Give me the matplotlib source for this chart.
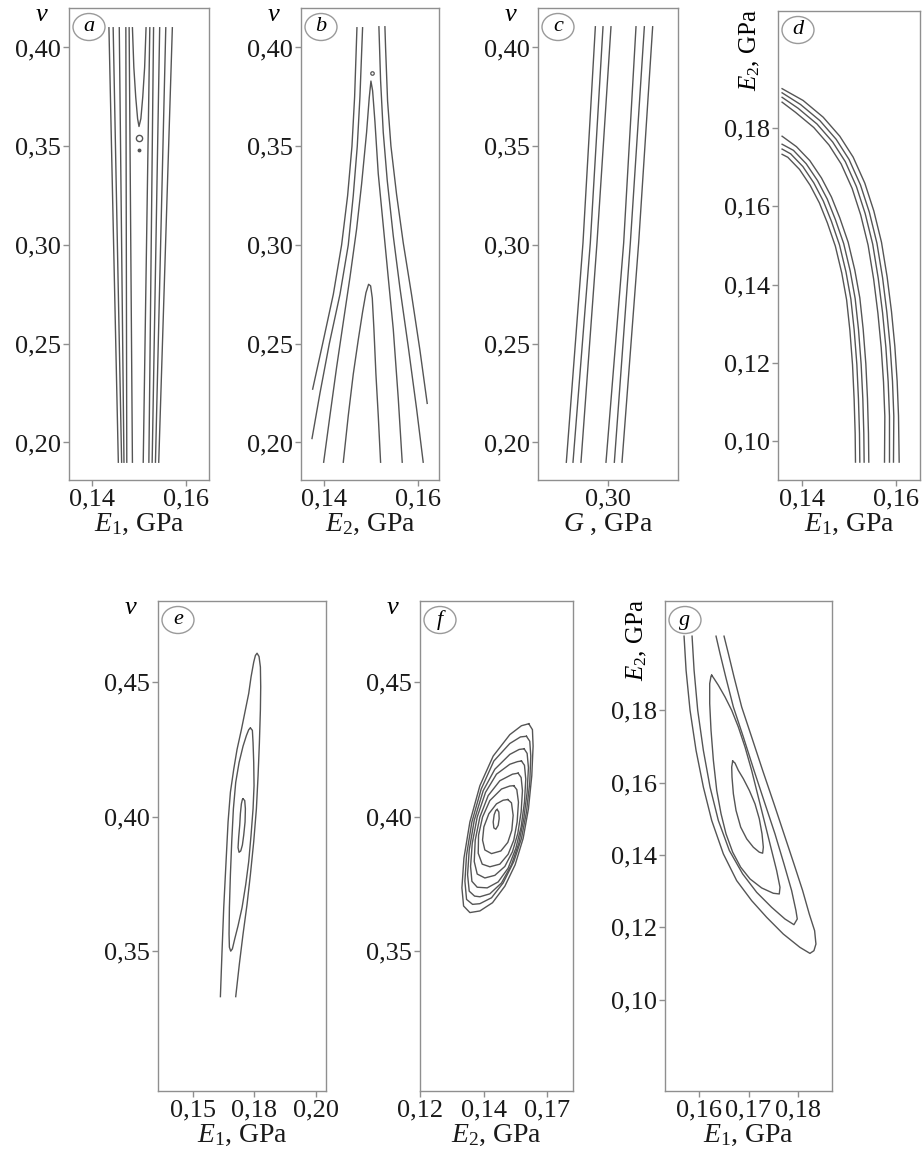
import numpy as np
import matplotlib
matplotlib.use("Agg")
import matplotlib.pyplot as plt
from matplotlib.patches import Ellipse

plt.rcParams["font.family"] = ["Liberation Serif", "DejaVu Serif"]
plt.rcParams["mathtext.fontset"] = "custom"
plt.rcParams["mathtext.rm"] = "Liberation Serif"
plt.rcParams["mathtext.it"] = "Liberation Serif:italic"

W, H = 922, 1162
LINE_C = "#555555"
FRAME_C = "#8f8f8f"
FS = 19

# ---------------- (a) E1 - v
a_v_ends = [0.41, 0.19]
a_top = [0.1436, 0.1445, 0.1458, 0.1472, 0.1479, 0.1523, 0.1531, 0.1544, 0.1557, 0.1571]
a_bot = [0.1456, 0.1463, 0.1468, 0.1474, 0.1486, 0.1509, 0.1521, 0.1528, 0.1535, 0.1542]
a_vee = [(0.1486, 0.410), (0.1489, 0.390), (0.1493, 0.375), (0.1497, 0.364), (0.1500, 0.360),
         (0.1504, 0.364), (0.1508, 0.375), (0.1512, 0.390), (0.1515, 0.410)]
a_ring = (0.1500, 0.354)
a_dot = (0.1501, 0.348)

# ---------------- (b) E2 - v
b_l1 = [(0.13750, 0.227), (0.13964, 0.250), (0.14193, 0.275), (0.14371, 0.300), (0.14500, 0.325),
        (0.14593, 0.350), (0.14650, 0.375), (0.14700, 0.410)]
b_l2 = [(0.13736, 0.202), (0.13907, 0.225), (0.14107, 0.250), (0.14336, 0.275), (0.14514, 0.300),
        (0.14621, 0.325), (0.14707, 0.350), (0.14764, 0.375), (0.14821, 0.410)]
b_u1 = [(0.13986, 0.190), (0.14121, 0.2136), (0.14264, 0.2381), (0.14407, 0.2609), (0.14550, 0.2836),
        (0.14693, 0.3081), (0.14800, 0.3309), (0.14907, 0.3571), (0.14964, 0.3746), (0.15000, 0.3830),
        (0.15036, 0.3781), (0.15086, 0.3624), (0.15157, 0.3361), (0.15264, 0.3099), (0.15371, 0.2836),
        (0.15479, 0.2574), (0.15586, 0.2224), (0.15671, 0.190)]
b_u2 = [(0.14407, 0.190), (0.14514, 0.2136), (0.14621, 0.2346), (0.14729, 0.2521), (0.14821, 0.2661),
        (0.14893, 0.2758), (0.14950, 0.2801), (0.14993, 0.2793), (0.15029, 0.2731), (0.15064, 0.2574),
        (0.15107, 0.2346), (0.15157, 0.2136), (0.15207, 0.190)]
b_r1 = [(0.16207, 0.2198), (0.16050, 0.2469), (0.15871, 0.2749), (0.15693, 0.3011), (0.15550, 0.3256),
        (0.15429, 0.3501), (0.15357, 0.3729), (0.15314, 0.400), (0.15300, 0.4105)]
b_r2 = [(0.16121, 0.190), (0.15979, 0.2171), (0.15800, 0.2486), (0.15621, 0.2784), (0.15479, 0.3046),
        (0.15350, 0.3326), (0.15264, 0.3571), (0.15207, 0.3834), (0.15171, 0.4105)]
b_dot = (0.15014, 0.3869)

# ---------------- (c) G - v
c_v = [0.4105, 0.3011, 0.190]
c_g = [[0.29729, 0.29464, 0.29107],
       [0.29893, 0.29621, 0.29250],
       [0.30064, 0.29764, 0.29421],
       [0.30600, 0.30336, 0.29957],
       [0.30779, 0.30479, 0.30136],
       [0.30957, 0.30657, 0.30300]]

# ---------------- (d) E1 - E2
d_u1 = [(0.13567, 0.19013), (0.14014, 0.18711), (0.14440, 0.18284), (0.14794, 0.17796), (0.15078, 0.17262),
        (0.15326, 0.16596), (0.15518, 0.15884), (0.15681, 0.15084), (0.15801, 0.14196), (0.15894, 0.13307),
        (0.15965, 0.12418), (0.16014, 0.11529), (0.16043, 0.10640), (0.16057, 0.09458)]
d_u2 = [(0.13567, 0.18907), (0.13959, 0.18608), (0.14372, 0.18194), (0.14716, 0.17719), (0.14991, 0.17202),
        (0.15234, 0.16549), (0.15423, 0.15850), (0.15584, 0.15059), (0.15704, 0.14177), (0.15795, 0.13292),
        (0.15866, 0.12407), (0.15915, 0.11522), (0.15943, 0.10636), (0.15936, 0.09458)]
d_u3 = [(0.13567, 0.18791), (0.13908, 0.18511), (0.14309, 0.18109), (0.14643, 0.17648), (0.14911, 0.17146),
        (0.15148, 0.16507), (0.15334, 0.15817), (0.15494, 0.15035), (0.15612, 0.14160), (0.15704, 0.13279),
        (0.15774, 0.12397), (0.15823, 0.11516), (0.15851, 0.10634), (0.15851, 0.09458)]
d_u4 = [(0.13567, 0.18667), (0.13852, 0.18408), (0.14241, 0.18019), (0.14565, 0.17571), (0.14824, 0.17085),
        (0.15057, 0.16460), (0.15239, 0.15781), (0.15396, 0.15010), (0.15514, 0.14141), (0.15605, 0.13265),
        (0.15675, 0.12387), (0.15724, 0.11508), (0.15752, 0.10630), (0.15745, 0.09458)]
d_l1 = [(0.13567, 0.17796), (0.13872, 0.17529), (0.14156, 0.17173), (0.14404, 0.16729), (0.14617, 0.16240),
        (0.14794, 0.15707), (0.14972, 0.15084), (0.15113, 0.14373), (0.15220, 0.13662), (0.15291, 0.12862),
        (0.15348, 0.11973), (0.15383, 0.11084), (0.15404, 0.10196), (0.15411, 0.09458)]
d_l2 = [(0.13567, 0.17591), (0.13809, 0.17434), (0.14079, 0.17093), (0.14320, 0.16663), (0.14528, 0.16187),
        (0.14701, 0.15662), (0.14877, 0.15049), (0.15016, 0.14347), (0.15121, 0.13644), (0.15192, 0.12851),
        (0.15248, 0.11965), (0.15284, 0.11079), (0.15305, 0.10193), (0.15312, 0.09458)]
d_l3 = [(0.13567, 0.17467), (0.13749, 0.17346), (0.14009, 0.17020), (0.14241, 0.16603), (0.14444, 0.16137),
        (0.14616, 0.15620), (0.14788, 0.15016), (0.14926, 0.14322), (0.15030, 0.13627), (0.15100, 0.12840),
        (0.15157, 0.11957), (0.15191, 0.11075), (0.15213, 0.10191), (0.15220, 0.09458)]
d_l4 = [(0.13567, 0.17333), (0.13689, 0.17257), (0.13938, 0.16946), (0.14163, 0.16542), (0.14361, 0.16087),
        (0.14530, 0.15579), (0.14700, 0.14982), (0.14836, 0.14297), (0.14939, 0.13611), (0.15009, 0.12828),
        (0.15065, 0.11950), (0.15099, 0.11070), (0.15121, 0.10188), (0.15128, 0.09458)]

# ---------------- (e) E1 - v
e_outer = [(0.16114, 0.33309), (0.16182, 0.35025), (0.16250, 0.36618), (0.16345, 0.38333), (0.16427, 0.39804),
           (0.16522, 0.40907), (0.16658, 0.41765), (0.16793, 0.42500), (0.16970, 0.43235), (0.17133, 0.43971),
           (0.17269, 0.44583), (0.17364, 0.45196), (0.17473, 0.45748), (0.17541, 0.45993), (0.17609, 0.46078),
           (0.17690, 0.45956), (0.17745, 0.45564), (0.17758, 0.44828), (0.17745, 0.43971), (0.17704, 0.42745),
           (0.17650, 0.41520), (0.17582, 0.40294), (0.17473, 0.39069), (0.17337, 0.37843), (0.17201, 0.36740),
           (0.17038, 0.35637), (0.16889, 0.34534), (0.16739, 0.33309)]
e_mid = [(0.17337, 0.43297), (0.17418, 0.43211), (0.17446, 0.42745), (0.17473, 0.42010), (0.17486, 0.41152),
         (0.17446, 0.40294), (0.17364, 0.39314), (0.17269, 0.38333), (0.17147, 0.37475), (0.16997, 0.36618),
         (0.16834, 0.35944), (0.16698, 0.35453), (0.16603, 0.35086), (0.16535, 0.35000), (0.16481, 0.35147),
         (0.16467, 0.35637), (0.16481, 0.36618), (0.16522, 0.37843), (0.16576, 0.39069), (0.16644, 0.40294),
         (0.16739, 0.41275), (0.16875, 0.42010), (0.17038, 0.42623), (0.17174, 0.43015), (0.17269, 0.43235)]
e_inner = [(0.17038, 0.40662), (0.17106, 0.40600), (0.17133, 0.40294), (0.17120, 0.39804), (0.17065, 0.39314),
           (0.17011, 0.38946), (0.16943, 0.38725), (0.16875, 0.38676), (0.16834, 0.38848), (0.16861, 0.39252),
           (0.16902, 0.39681), (0.16929, 0.40110), (0.16970, 0.40478), (0.17010, 0.40637)]

# ---------------- (f) E2 - v
f_r1 = [(0.16280, 0.43456), (0.16424, 0.43235), (0.16450, 0.42623), (0.16398, 0.41520), (0.16267, 0.40294),
        (0.16058, 0.39191), (0.15743, 0.38211), (0.15338, 0.37414), (0.14853, 0.36801), (0.14356, 0.36495),
        (0.13963, 0.36434), (0.13715, 0.36679), (0.13649, 0.37353), (0.13728, 0.38456), (0.13963, 0.39804),
        (0.14356, 0.41152), (0.14880, 0.42255), (0.15534, 0.43051), (0.15992, 0.43382)]
f_r2 = [(0.16188, 0.42990), (0.16319, 0.42806), (0.16359, 0.42255), (0.16319, 0.41275), (0.16188, 0.40172),
        (0.15992, 0.39191), (0.15691, 0.38333), (0.15272, 0.37537), (0.14814, 0.36985), (0.14356, 0.36765),
        (0.14068, 0.36740), (0.13832, 0.36924), (0.13767, 0.37598), (0.13832, 0.38578), (0.14042, 0.39804),
        (0.14408, 0.41029), (0.14906, 0.42071), (0.15534, 0.42721), (0.15953, 0.42966)]
f_r3 = [(0.16097, 0.42525), (0.16215, 0.42353), (0.16267, 0.41826), (0.16215, 0.40907), (0.16084, 0.39926),
        (0.15887, 0.39007), (0.15599, 0.38211), (0.15207, 0.37537), (0.14749, 0.37132), (0.14356, 0.37022),
        (0.14147, 0.37047), (0.13937, 0.37230), (0.13872, 0.37843), (0.13937, 0.38762), (0.14134, 0.39865),
        (0.14487, 0.40968), (0.14945, 0.41765), (0.15534, 0.42316), (0.15901, 0.42500)]
f_r4 = [(0.15992, 0.42071), (0.16110, 0.41912), (0.16162, 0.41397), (0.16110, 0.40539), (0.15979, 0.39620),
        (0.15770, 0.38824), (0.15469, 0.38088), (0.15076, 0.37574), (0.14644, 0.37353), (0.14251, 0.37377),
        (0.14042, 0.37598), (0.13990, 0.38149), (0.14055, 0.39007), (0.14251, 0.39988), (0.14579, 0.40907),
        (0.15010, 0.41581), (0.15534, 0.41949), (0.15835, 0.42047)]
f_r5 = [(0.15861, 0.41618), (0.15979, 0.41458), (0.16031, 0.40968), (0.15979, 0.40172), (0.15848, 0.39375),
        (0.15639, 0.38701), (0.15338, 0.38149), (0.14945, 0.37819), (0.14552, 0.37721), (0.14251, 0.37868),
        (0.14134, 0.38333), (0.14173, 0.39130), (0.14356, 0.39988), (0.14683, 0.40784), (0.15141, 0.41336),
        (0.15639, 0.41581)]
f_r6 = [(0.15691, 0.41152), (0.15809, 0.41005), (0.15874, 0.40539), (0.15822, 0.39804), (0.15691, 0.39130),
        (0.15469, 0.38603), (0.15141, 0.38235), (0.14749, 0.38137), (0.14448, 0.38235), (0.14291, 0.38640),
        (0.14304, 0.39314), (0.14461, 0.39988), (0.14749, 0.40600), (0.15207, 0.41029), (0.15534, 0.41140)]
f_r7 = [(0.15455, 0.40637), (0.15599, 0.40515), (0.15665, 0.40049), (0.15613, 0.39498), (0.15455, 0.39044),
        (0.15181, 0.38725), (0.14814, 0.38627), (0.14552, 0.38762), (0.14461, 0.39130), (0.14513, 0.39620),
        (0.14709, 0.40110), (0.15010, 0.40478), (0.15272, 0.40613)]
f_core = [(0.15037, 0.40270), (0.15102, 0.40172), (0.15115, 0.39926), (0.15076, 0.39681), (0.14984, 0.39534),
          (0.14906, 0.39583), (0.14880, 0.39804), (0.14919, 0.40074), (0.14984, 0.40233)]

# ---------------- (g) E1 - E2
g_c1 = [(0.15688, 0.20048), (0.15729, 0.19107), (0.15810, 0.18000), (0.15932, 0.16893), (0.16081, 0.15878),
        (0.16251, 0.14955), (0.16488, 0.14032), (0.16759, 0.13294), (0.17064, 0.12741), (0.17370, 0.12279),
        (0.17708, 0.11818), (0.18047, 0.11449), (0.18251, 0.11283), (0.18332, 0.11357), (0.18373, 0.11541),
        (0.18346, 0.11910), (0.18237, 0.12372), (0.18102, 0.13018), (0.17925, 0.13756), (0.17722, 0.14586),
        (0.17519, 0.15416), (0.17288, 0.16339), (0.17064, 0.17262), (0.16861, 0.18092), (0.16705, 0.18923),
        (0.16590, 0.19569), (0.16502, 0.20048)]
g_c2 = [(0.15851, 0.20048), (0.15892, 0.19107), (0.15966, 0.18000), (0.16081, 0.16893), (0.16217, 0.15878),
        (0.16386, 0.14955), (0.16610, 0.14125), (0.16881, 0.13479), (0.17166, 0.12971), (0.17471, 0.12556),
        (0.17742, 0.12233), (0.17925, 0.12076), (0.17993, 0.12233), (0.17966, 0.12464), (0.17878, 0.13018),
        (0.17722, 0.13756), (0.17539, 0.14586), (0.17336, 0.15416), (0.17112, 0.16339), (0.16895, 0.17262),
        (0.16692, 0.18092), (0.16536, 0.18923), (0.16420, 0.19569), (0.16339, 0.20048)]
g_c3 = [(0.16251, 0.18969), (0.16298, 0.18877), (0.16386, 0.18692), (0.16522, 0.18369), (0.16658, 0.18000),
        (0.16793, 0.17539), (0.16929, 0.16985), (0.17064, 0.16339), (0.17200, 0.15601), (0.17336, 0.14863),
        (0.17471, 0.14125), (0.17573, 0.13571), (0.17641, 0.13110), (0.17627, 0.12925), (0.17505, 0.12944),
        (0.17268, 0.13091), (0.17031, 0.13340), (0.16841, 0.13663), (0.16678, 0.14079), (0.16542, 0.14586),
        (0.16441, 0.15140), (0.16353, 0.15786), (0.16285, 0.16616), (0.16237, 0.17446), (0.16210, 0.18185),
        (0.16210, 0.18738), (0.16237, 0.18941)]
g_c4 = [(0.16678, 0.16598), (0.16725, 0.16542), (0.16793, 0.16339), (0.16895, 0.16109), (0.17017, 0.15786),
        (0.17132, 0.15416), (0.17220, 0.15001), (0.17275, 0.14586), (0.17302, 0.14217), (0.17288, 0.14051),
        (0.17220, 0.14079), (0.17098, 0.14217), (0.16963, 0.14448), (0.16841, 0.14771), (0.16746, 0.15232),
        (0.16692, 0.15693), (0.16664, 0.16155), (0.16658, 0.16431)]

# ---------------- axes, ticks, labels
v_top_ticks = [0.20, 0.25, 0.30, 0.35, 0.40]
v_top_labels = ["0,20", "0,25", "0,30", "0,35", "0,40"]
v_bot_ticks = [0.35, 0.40, 0.45]
v_bot_labels = ["0,35", "0,40", "0,45"]
e2_ticks = [0.10, 0.12, 0.14, 0.16, 0.18]
e2_labels = ["0,10", "0,12", "0,14", "0,16", "0,18"]

fig = plt.figure(figsize=(W / 100, H / 100), dpi=100)


def make_ax(box, xlim, ylim, xticks, xlabels, yticks, ylabels, xlabel, letter):
    left, top, w, h = box
    ax = fig.add_axes([left / W, 1 - (top + h) / H, w / W, h / H])
    ax.set_xlim(xlim)
    ax.set_ylim(ylim)
    ax.set_xticks(xticks)
    ax.set_xticklabels(xlabels)
    ax.set_yticks(yticks)
    ax.set_yticklabels(ylabels)
    for s in ax.spines.values():
        s.set_color(FRAME_C)
        s.set_linewidth(1.0)
    ax.tick_params(direction="out", length=4, width=1, color=FRAME_C,
                   labelsize=FS, pad=2, labelcolor="#1a1a1a")
    ax.set_xlabel(xlabel, fontsize=20, labelpad=1, color="#1a1a1a")
    # panel letter in an oval
    cx, cy = 20 / w, 1 - 19 / h
    ax.add_patch(Ellipse((cx, cy), 32 / w, 27 / h, transform=ax.transAxes,
                         fc="white", ec="#9a9a9a", lw=1.0, zorder=5))
    ax.text(cx, cy, letter, transform=ax.transAxes, ha="center", va="center",
            fontstyle="italic", fontsize=16, zorder=6)
    return ax


def v_label(ax, box):
    left, top, w, h = box
    ax.text(-27 / w, 1 - 7 / h, "v", transform=ax.transAxes, ha="center", va="center",
            fontstyle="italic", fontsize=FS, clip_on=False)


def e2_label(ax, box):
    left, top, w, h = box
    ax.text(-28 / w, 1.005, r"$E_2$, GPa", transform=ax.transAxes, rotation=90,
            ha="center", va="top", fontsize=18, clip_on=False)


def curve(ax, pts, closed=False):
    arr = np.array(pts)
    if closed:
        arr = np.vstack([arr, arr[:1]])
    ax.plot(arr[:, 0], arr[:, 1], color=LINE_C, lw=1.0)


box_a = (69, 8, 140, 472)
box_b = (301, 8, 138, 472)
box_c = (538, 8, 140, 472)
box_d = (778, 11, 142, 469)
box_e = (158, 601, 168, 490)
box_f = (420, 601, 153, 490)
box_g = (665, 601, 167, 490)

# (a)
ax = make_ax(box_a, (0.1351, 0.1649), (0.181, 0.42), [0.14, 0.16], ["0,14", "0,16"],
             v_top_ticks, v_top_labels, r"$E_1$, GPa", "a")
v_label(ax, box_a)
for xt, xb in zip(a_top, a_bot):
    ax.plot([xt, xb], a_v_ends, color=LINE_C, lw=1.0)
curve(ax, a_vee)
ax.plot(*a_ring, "o", ms=4.5, mfc="none", mec=LINE_C, mew=1.0)
ax.plot(*a_dot, "o", ms=1.8, color=LINE_C)

# (b)
ax = make_ax(box_b, (0.135, 0.1646), (0.181, 0.42), [0.14, 0.16], ["0,14", "0,16"],
             v_top_ticks, v_top_labels, r"$E_2$, GPa", "b")
v_label(ax, box_b)
for pts in (b_l1, b_l2, b_u1, b_u2, b_r1, b_r2):
    curve(ax, pts)
ax.plot(*b_dot, "o", ms=2.5, mfc="none", mec=LINE_C, mew=0.9)

# (c)
ax = make_ax(box_c, (0.285, 0.315), (0.181, 0.42), [0.30], ["0,30"],
             v_top_ticks, v_top_labels, r"$G$ , GPa", "c")
v_label(ax, box_c)
for xs in c_g:
    ax.plot(xs, c_v, color=LINE_C, lw=1.0)

# (d)
ax = make_ax(box_d, (0.1348, 0.165), (0.09, 0.21), [0.14, 0.16], ["0,14", "0,16"],
             e2_ticks, e2_labels, r"$E_1$, GPa", "d")
e2_label(ax, box_d)
for pts in (d_u1, d_u2, d_u3, d_u4, d_l1, d_l2, d_l3, d_l4):
    curve(ax, pts)

# (e)
ax = make_ax(box_e, (0.1357, 0.2042), (0.298, 0.4802), [0.15, 0.175, 0.20], ["0,15", "0,18", "0,20"],
             v_bot_ticks, v_bot_labels, r"$E_1$, GPa", "e")
v_label(ax, box_e)
curve(ax, e_outer)
curve(ax, e_mid, closed=True)
curve(ax, e_inner, closed=True)

# (f)
ax = make_ax(box_f, (0.12, 0.1802), (0.298, 0.4802), [0.12, 0.145, 0.17], ["0,12", "0,14", "0,17"],
             v_bot_ticks, v_bot_labels, r"$E_2$, GPa", "f")
v_label(ax, box_f)
for pts in (f_r1, f_r2, f_r3, f_r4, f_r5, f_r6, f_r7, f_core):
    curve(ax, pts, closed=True)

# (g)
ax = make_ax(box_g, (0.153, 0.187), (0.0748, 0.2102), [0.16, 0.17, 0.18], ["0,16", "0,17", "0,18"],
             e2_ticks, e2_labels, r"$E_1$, GPa", "g")
e2_label(ax, box_g)
curve(ax, g_c1)
curve(ax, g_c2)
curve(ax, g_c3, closed=True)
curve(ax, g_c4, closed=True)

fig.savefig("out.png", dpi=100, facecolor="white")
